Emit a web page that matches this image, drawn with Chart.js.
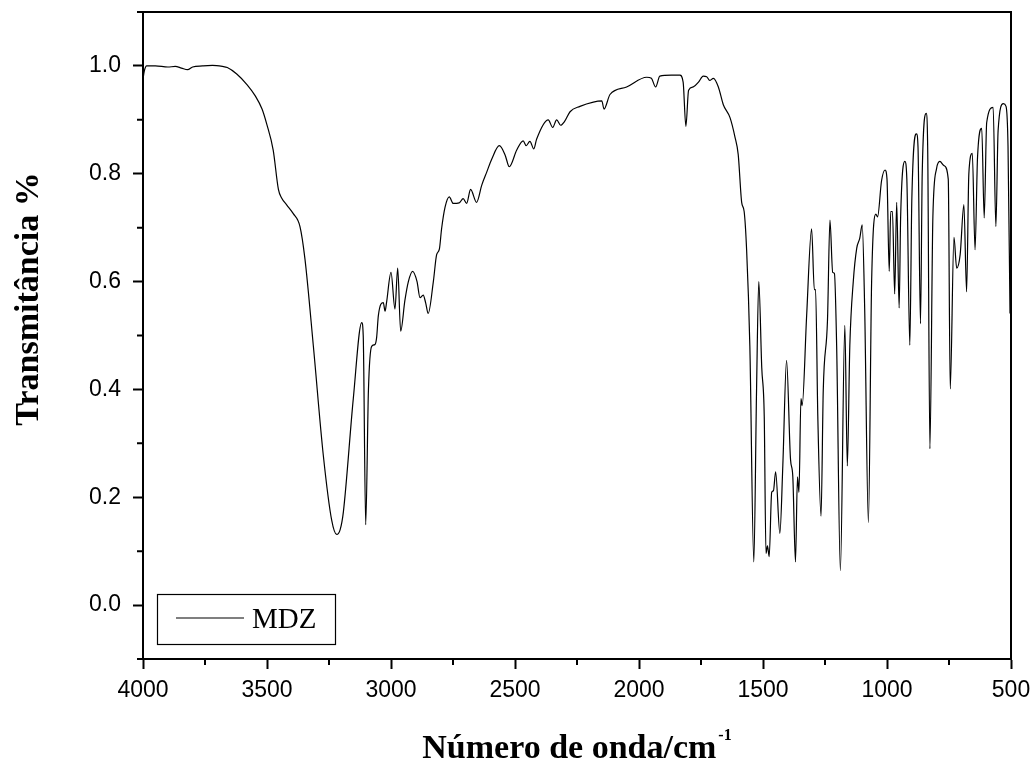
<!DOCTYPE html>
<html>
<head>
<meta charset="utf-8">
<script src="https://cdn.jsdelivr.net/npm/chart.js@4"></script>
<style>
  html, body { margin: 0; padding: 0; background: #fff; }
  #box { width: 1034px; height: 762px; }
</style>
</head>
<body>
<div id="box"><canvas id="grafico"></canvas></div>
<script>
// espectro IV (MDZ)
const serieNome = 'MDZ';
const numeroOnda = [
  4000, 3995, 3985, 3950, 3900, 3870, 3845, 3820, 3800, 3760, 3720, 3680, 3660,
  3622, 3580, 3548, 3520, 3501, 3475, 3454, 3441, 3420, 3394, 3367, 3347, 3313,
  3273, 3239, 3219, 3205, 3192, 3152, 3118, 3112, 3102, 3091, 3078, 3065, 3058,
  3051, 3031, 3024, 3018, 3000, 2984, 2973, 2961, 2944, 2930, 2913, 2895, 2883,
  2870, 2860, 2850, 2829, 2816, 2805, 2796, 2782, 2765, 2749, 2725, 2709, 2695,
  2679, 2655, 2634, 2614, 2594, 2563, 2540, 2523, 2493, 2467, 2455, 2440, 2424,
  2413, 2366, 2348, 2332, 2316, 2300, 2278, 2238, 2184, 2150, 2141, 2117, 2050,
  1969, 1950, 1933, 1916, 1870, 1835, 1822, 1811, 1800, 1781, 1760, 1741, 1727,
  1715, 1700, 1680, 1660, 1633, 1613, 1600, 1586, 1576, 1566, 1553, 1537, 1526,
  1517, 1505, 1495, 1488, 1482, 1475, 1465, 1458, 1449, 1432, 1420, 1405, 1389,
  1380, 1369, 1361, 1355, 1347, 1342, 1324, 1304, 1293, 1288, 1279, 1266, 1257,
  1240, 1230, 1219, 1212, 1203, 1188, 1170, 1160, 1150, 1136, 1122, 1110, 1100,
  1090, 1075, 1062, 1045, 1038, 1022, 1008, 1000, 991, 985, 978, 969, 961, 951,
  945, 928, 920, 908, 900, 881, 875, 865, 858, 842, 836, 827, 815, 800, 787, 770,
  753, 745, 730, 719, 705, 690, 679, 670, 656, 645, 635, 618, 608, 598, 572, 561,
  552, 531, 520, 512, 504
];
const transmitancia = [
  0.975, 0.99, 1.0, 1.0, 0.998, 0.999, 0.996, 0.993, 0.998, 1.0, 1.001, 0.999, 0.997,
  0.985, 0.965, 0.945, 0.92, 0.892, 0.844, 0.771, 0.755, 0.742, 0.726, 0.702, 0.642, 0.48,
  0.278, 0.157, 0.131, 0.14, 0.173, 0.383, 0.524, 0.50, 0.149, 0.399, 0.48, 0.483, 0.496,
  0.537, 0.561, 0.545, 0.561, 0.617, 0.549, 0.625, 0.508, 0.565, 0.60, 0.619, 0.60, 0.57,
  0.575, 0.56, 0.541, 0.601, 0.65, 0.66, 0.698, 0.738, 0.757, 0.745, 0.746, 0.754, 0.745,
  0.771, 0.747, 0.779, 0.803, 0.827, 0.852, 0.835, 0.813, 0.844, 0.861, 0.852, 0.86, 0.846,
  0.864, 0.90, 0.886, 0.90, 0.89, 0.897, 0.915, 0.925, 0.933, 0.935, 0.920, 0.947, 0.961,
  0.979, 0.977, 0.961, 0.981, 0.983, 0.983, 0.97, 0.888, 0.955, 0.961, 0.97, 0.981, 0.98,
  0.973, 0.977, 0.961, 0.928, 0.904, 0.868, 0.836, 0.747, 0.73, 0.658, 0.48, 0.080, 0.399,
  0.60, 0.44, 0.35, 0.096, 0.11, 0.09, 0.209, 0.212, 0.247, 0.133, 0.26, 0.454, 0.27,
  0.24, 0.080, 0.238, 0.209, 0.383, 0.37, 0.537, 0.698, 0.585, 0.585, 0.35, 0.165, 0.399,
  0.528, 0.714, 0.617, 0.615, 0.48, 0.064, 0.519, 0.258, 0.48, 0.60, 0.662, 0.68, 0.705,
  0.55, 0.153, 0.60, 0.725, 0.72, 0.787, 0.807, 0.79, 0.619, 0.73, 0.73, 0.577, 0.747, 0.551,
  0.72, 0.823, 0.79, 0.482, 0.75, 0.874, 0.85, 0.522, 0.80, 0.912, 0.85, 0.29, 0.72, 0.81, 0.823, 0.815,
  0.79, 0.401, 0.682, 0.625, 0.65, 0.743, 0.581, 0.80, 0.838, 0.659, 0.83, 0.884, 0.718, 0.895, 0.923, 0.702,
  0.88, 0.930, 0.925, 0.85, 0.541
];
const xTicks = [4000, 3500, 3000, 2500, 2000, 1500, 1000, 500];
const xMinor = [3750, 3250, 2750, 2250, 1750, 1250, 750];
const yTicks = [0.0, 0.2, 0.4, 0.6, 0.8, 1.0];
const yMinor = [-0.1, 0.1, 0.3, 0.5, 0.7, 0.9, 1.1];

const tituloY = 'Transmitância %';
const tituloX = 'Número de onda/cm';
const tituloXSup = '-1';

// moldura, ticks menores, titulos e legenda
const extras = {
  id: 'extras',
  afterDraw(chart) {
    const ctx = chart.ctx;
    const a = chart.chartArea;
    const sx = chart.scales.x, sy = chart.scales.y;
    ctx.save();
    ctx.strokeStyle = '#000';
    ctx.lineWidth = 2;
    ctx.strokeRect(a.left, a.top, a.right - a.left, a.bottom - a.top);
    ctx.beginPath();
    xMinor.forEach(v => {
      const px = sx.getPixelForValue(v);
      ctx.moveTo(px, a.bottom); ctx.lineTo(px, a.bottom + 6);
    });
    yMinor.forEach(v => {
      const py = sy.getPixelForValue(v);
      ctx.moveTo(a.left, py); ctx.lineTo(a.left - 6, py);
    });
    ctx.stroke();

    ctx.fillStyle = '#000';
    // titulo Y
    ctx.save();
    ctx.translate(38, 299);
    ctx.rotate(-Math.PI / 2);
    ctx.font = 'bold 34px "Liberation Serif"';
    ctx.textAlign = 'center';
    ctx.textBaseline = 'alphabetic';
    ctx.fillText(tituloY, 0, 0);
    ctx.restore();

    // titulo X com expoente
    ctx.font = 'bold 34px "Liberation Serif"';
    const w1 = ctx.measureText(tituloX).width;
    ctx.font = 'bold 16px "Liberation Serif"';
    const w2 = ctx.measureText(tituloXSup).width;
    const cx = (a.left + a.right) / 2;
    const x0 = cx - (w1 + 2 + w2) / 2;
    ctx.textAlign = 'left';
    ctx.textBaseline = 'alphabetic';
    ctx.font = 'bold 34px "Liberation Serif"';
    ctx.fillText(tituloX, x0, 758);
    ctx.font = 'bold 16px "Liberation Serif"';
    ctx.fillText(tituloXSup, x0 + w1 + 2, 740);

    // legenda
    ctx.lineWidth = 1.2;
    ctx.strokeRect(157.5, 594.5, 178, 50);
    ctx.beginPath();
    ctx.moveTo(176, 618); ctx.lineTo(244, 618);
    ctx.stroke();
    ctx.font = '29px "Liberation Serif"';
    ctx.fillText(chart.data.datasets[0].label, 252, 628);
    ctx.restore();
  }
};

const ctx = document.getElementById('grafico').getContext('2d');
const chart = new Chart(ctx, {
  type: 'line',
  data: {
    datasets: [{
      label: serieNome,
      data: numeroOnda.map((w, i) => ({ x: w, y: transmitancia[i] })),
      borderColor: '#000',
      borderWidth: 1.2,
      pointRadius: 0,
      fill: false,
      cubicInterpolationMode: 'monotone'
    }]
  },
  options: {
    responsive: true,
    maintainAspectRatio: false,
    animation: false,
    layout: { padding: { top: 12, right: 23, left: 0, bottom: 0 } },
    plugins: { legend: { display: false }, tooltip: { enabled: false } },
    scales: {
      x: {
        type: 'linear',
        reverse: true,
        min: 500,
        max: 4000,
        afterBuildTicks: s => { s.ticks = xTicks.map(v => ({ value: v })); },
        afterFit: s => { s.height = 103; s.paddingLeft = 0; s.paddingRight = 0; },
        border: { display: true, color: '#000', width: 2 },
        grid: { drawOnChartArea: false, drawTicks: true, tickLength: 10, tickWidth: 2, tickColor: '#000' },
        ticks: {
          color: '#000',
          padding: 8,
          maxRotation: 0,
          font: { family: '"Liberation Sans"', size: 23 },
          callback: v => String(v)
        }
      },
      y: {
        min: -0.1,
        max: 1.1,
        afterBuildTicks: s => { s.ticks = yTicks.map(v => ({ value: v })); },
        afterFit: s => { s.width = 143; s.paddingTop = 0; s.paddingBottom = 0; },
        border: { display: true, color: '#000', width: 2 },
        grid: { drawOnChartArea: false, drawTicks: true, tickLength: 10, tickWidth: 2, tickColor: '#000' },
        ticks: {
          color: '#000',
          padding: 12,
          font: { family: '"Liberation Sans"', size: 23 },
          callback: v => Number(v).toFixed(1)
        }
      }
    }
  },
  plugins: [extras]
});
</script>
</body>
</html>
